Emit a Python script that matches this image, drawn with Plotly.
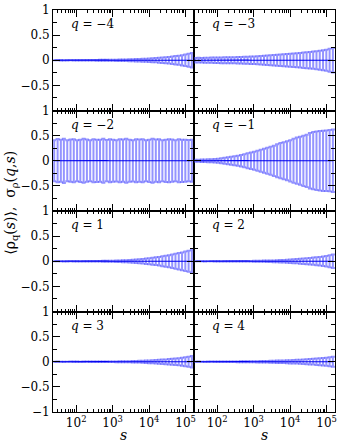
import plotly.graph_objects as go
from plotly.subplots import make_subplots

# sampled scales s (shared by every panel)
S = [25, 31, 38, 46, 57, 70, 86, 106, 130, 160, 197, 242, 298, 367, 451,
     555, 683, 840, 1033, 1271, 1563, 1922, 2364, 2908, 3577, 4400, 5412,
     6657, 8188, 10071, 12387, 15236, 18741, 23051, 28353, 34874, 42895,
     52761, 64896, 79822, 98181, 120763, 148538]

# mean value <rho_q(s)> (sits on zero in every panel)
MEAN = [0.0, 0.001, 0.0, -0.001, 0.0, 0.001, 0.0, 0.0, -0.001, 0.0, 0.001,
        0.0, 0.0, -0.001, 0.0, 0.0, 0.001, 0.0, 0.0, -0.001, 0.0, 0.001, 0.0,
        0.0, -0.001, 0.0, 0.001, 0.0, 0.0, -0.001, 0.0, 0.001, 0.0, 0.0,
        -0.001, 0.0, 0.001, 0.0, 0.0, -0.001, 0.0, 0.001, 0.0]

Q_LABELS = ["\u22124", "\u22123", "\u22122", "\u22121", "1", "2", "3", "4"]

# sigma_rho(q, s) per panel
SIG_QM4 = [0.002, 0.002, 0.003, 0.002, 0.003, 0.003, 0.004, 0.003, 0.004, 0.005,
           0.005, 0.006, 0.006, 0.007, 0.008, 0.008, 0.009, 0.010,
           0.011, 0.012, 0.014, 0.015, 0.017, 0.019, 0.021, 0.023,
           0.026, 0.028, 0.031, 0.035, 0.039, 0.043, 0.048, 0.054,
           0.060, 0.067, 0.075, 0.083, 0.092, 0.102, 0.115, 0.130, 0.145]
SIG_QM3 = [0.045, 0.047, 0.046, 0.050, 0.049, 0.052, 0.054, 0.053, 0.057, 0.058,
           0.060, 0.062, 0.061, 0.065, 0.067, 0.069, 0.071, 0.074,
           0.077, 0.081, 0.085, 0.089, 0.093, 0.098, 0.103, 0.108,
           0.113, 0.118, 0.123, 0.128, 0.134, 0.140, 0.146, 0.152,
           0.158, 0.165, 0.172, 0.180, 0.189, 0.199, 0.210, 0.228, 0.245]
SIG_QM2 = [0.41, 0.43, 0.42, 0.44, 0.41, 0.42, 0.43, 0.41, 0.42, 0.44,
           0.42, 0.41, 0.43, 0.42, 0.42, 0.44, 0.41, 0.43,
           0.42, 0.41, 0.43, 0.42, 0.44, 0.42, 0.41, 0.43,
           0.42, 0.43, 0.41, 0.42, 0.44, 0.42, 0.43, 0.41,
           0.42, 0.43, 0.42, 0.41, 0.43, 0.42, 0.42, 0.41, 0.42]
SIG_QM1 = [0.020, 0.020, 0.025, 0.025, 0.030, 0.030, 0.035, 0.040, 0.050, 0.060,
           0.070, 0.080, 0.090, 0.100, 0.115, 0.130, 0.150, 0.165,
           0.180, 0.200, 0.220, 0.240, 0.260, 0.280, 0.300, 0.330,
           0.350, 0.370, 0.390, 0.410, 0.440, 0.460, 0.480, 0.500,
           0.520, 0.550, 0.570, 0.580, 0.590, 0.600, 0.600, 0.610, 0.620]
SIG_Q1 = [0.002, 0.002, 0.002, 0.002, 0.003, 0.003, 0.003, 0.003, 0.003, 0.004,
          0.004, 0.005, 0.005, 0.006, 0.007, 0.008, 0.009, 0.010,
          0.012, 0.014, 0.016, 0.019, 0.022, 0.026, 0.030, 0.035,
          0.040, 0.046, 0.053, 0.060, 0.068, 0.077, 0.087, 0.098,
          0.109, 0.121, 0.134, 0.148, 0.162, 0.177, 0.193, 0.210, 0.228]
SIG_Q2 = [0.002, 0.002, 0.002, 0.002, 0.002, 0.003, 0.003, 0.003, 0.003, 0.003,
          0.004, 0.004, 0.004, 0.005, 0.005, 0.006, 0.006, 0.007,
          0.008, 0.009, 0.010, 0.012, 0.014, 0.016, 0.018, 0.021,
          0.024, 0.027, 0.030, 0.034, 0.038, 0.043, 0.048, 0.053,
          0.059, 0.065, 0.072, 0.079, 0.087, 0.096, 0.106, 0.118, 0.132]
SIG_Q3 = [0.002, 0.002, 0.002, 0.002, 0.002, 0.002, 0.003, 0.003, 0.003, 0.003,
          0.003, 0.003, 0.004, 0.004, 0.004, 0.005, 0.005, 0.006,
          0.006, 0.007, 0.008, 0.009, 0.011, 0.012, 0.014, 0.016,
          0.018, 0.021, 0.024, 0.027, 0.030, 0.034, 0.038, 0.043,
          0.048, 0.053, 0.059, 0.065, 0.072, 0.080, 0.089, 0.100, 0.115]
SIG_Q4 = [0.002, 0.002, 0.002, 0.003, 0.003, 0.003, 0.003, 0.004, 0.004, 0.004,
          0.005, 0.006, 0.006, 0.007, 0.008, 0.009, 0.010, 0.011,
          0.012, 0.013, 0.014, 0.016, 0.017, 0.019, 0.021, 0.023,
          0.025, 0.027, 0.030, 0.032, 0.035, 0.038, 0.041, 0.045,
          0.049, 0.053, 0.058, 0.063, 0.068, 0.074, 0.081, 0.089, 0.100]

SIGMAS = [SIG_QM4, SIG_QM3, SIG_QM2, SIG_QM1, SIG_Q1, SIG_Q2, SIG_Q3, SIG_Q4]

X_TICKS = [100, 1000, 10000, 100000]
X_TICK_TEXT = ["10<sup>2</sup>", "10<sup>3</sup>", "10<sup>4</sup>", "10<sup>5</sup>"]
X_MINOR = [m * 10 ** d for d in range(1, 6) for m in range(2, 10)]
X_MINOR = [v for v in X_MINOR if 23 <= v <= 170000]

FONT = "DejaVu Serif"

fig = make_subplots(rows=4, cols=2, horizontal_spacing=0, vertical_spacing=0)

for i, (q, sig) in enumerate(zip(Q_LABELS, SIGMAS)):
    row, col = i // 2 + 1, i % 2 + 1
    fig.add_trace(
        go.Scatter(
            x=S, y=MEAN, mode="lines",
            line=dict(color="#0000ee", width=1.2),
            error_y=dict(type="data", array=sig, visible=True,
                         color="rgba(60,60,255,0.55)", thickness=2, width=2),
            showlegend=False,
        ),
        row=row, col=col,
    )
    sfx = "" if i == 0 else str(i + 1)
    fig.add_annotation(
        x=0.11, y=0.86, xref=f"x{sfx} domain", yref=f"y{sfx} domain",
        xanchor="left", yanchor="middle", showarrow=False,
        text=f"<i>q</i> = {q}", font=dict(family=FONT, size=12, color="black"),
    )

    bottom = row == 4
    yt = ["" if (v == -1 and not bottom) else t
          for v, t in zip([-1, -0.5, 0, 0.5, 1], ["\u22121", "\u22120.5", "0", "0.5", "1"])]
    fig.update_yaxes(
        range=[-1, 1], tickmode="array", tickvals=[-1, -0.5, 0, 0.5, 1],
        ticktext=yt, showticklabels=(col == 1),
        ticks="inside", ticklen=7, tickwidth=1, tickcolor="black",
        minor=dict(tickmode="array", tickvals=[-0.75, -0.25, 0.25, 0.75],
                   ticks="inside", ticklen=4, tickwidth=1, tickcolor="black"),
        showline=True, linecolor="black", linewidth=1, mirror="ticks",
        showgrid=False, zeroline=False,
        tickfont=dict(family=FONT, size=12, color="black"),
        row=row, col=col,
    )
    fig.update_xaxes(
        type="log", range=[1.365, 5.23],
        tickmode="array", tickvals=X_TICKS, ticktext=X_TICK_TEXT,
        showticklabels=bottom,
        ticks="inside", ticklen=7, tickwidth=1, tickcolor="black",
        minor=dict(tickmode="array", tickvals=X_MINOR,
                   ticks="inside", ticklen=3, tickwidth=1, tickcolor="black"),
        showline=True, linecolor="black", linewidth=1, mirror="ticks",
        showgrid=False, zeroline=False,
        tickfont=dict(family=FONT, size=12, color="black"),
        row=row, col=col,
    )

# axis titles
fig.add_annotation(
    x=-0.15, y=0.52, xref="paper", yref="paper", textangle=-90,
    xanchor="center", yanchor="middle", showarrow=False,
    text="\u27e8\u03c1<sub>q</sub>(<i>s</i>)\u27e9,  \u03c3<sub>\u03c1</sub>(<i>q</i>,<i>s</i>)",
    font=dict(family=FONT, size=14, color="black"),
)
for xc in (0.25, 0.75):
    fig.add_annotation(
        x=xc, y=-0.058, xref="paper", yref="paper",
        xanchor="center", yanchor="middle", showarrow=False,
        text="<i>s</i>", font=dict(family=FONT, size=14, color="black"),
    )

fig.update_layout(
    width=340, height=444,
    margin=dict(l=53, r=3, t=6, b=32),
    paper_bgcolor="white", plot_bgcolor="white",
    font=dict(family=FONT, color="black"),
)

fig.write_html("out.html", config={"displayModeBar": False},
               post_script="document.body.style.margin='0';")
